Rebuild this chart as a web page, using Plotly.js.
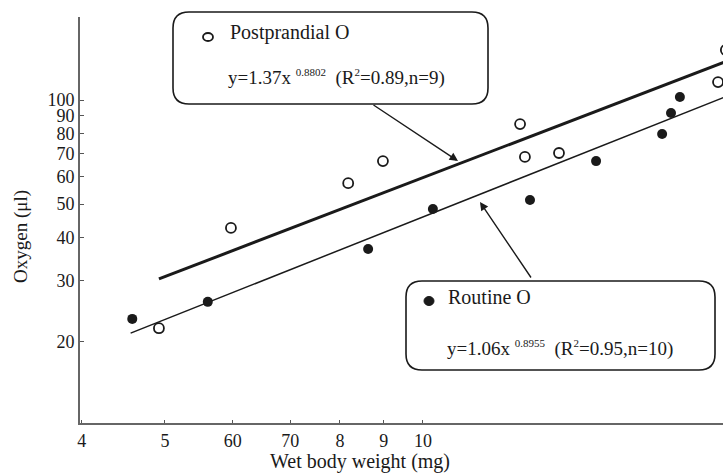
<!DOCTYPE html>
<html>
<head>
<meta charset="utf-8">
<script src="https://cdn.plot.ly/plotly-3.0.1.min.js"></script>
<style>html,body{margin:0;padding:0;background:#fff;}#chart{width:723px;height:476px;}</style>
</head>
<body>
<div id="chart"></div>
<script>
// ---- Data ----
const routineX = [45.8, 56.1, 86.3, 102.7, 133.3, 159.2, 190.1, 194.7, 199.4];
const routineY = [23.3, 26.1, 37.1, 48.4, 51.4, 66.6, 79.8, 91.7, 102];
const postX = [49.2, 59.7, 81.8, 89.8, 129.8, 131.5, 144.1, 220.9, 225.6];
const postY = [21.9, 42.7, 57.5, 66.6, 85.2, 68.5, 70.3, 112.7, 139.5];
const postFitX = [49.2, 226];
const postFitY = [30.4, 129.5];
const routineFitX = [45.6, 226];
const routineFitY = [21.2, 102.5];
const xTickVals = [40, 50, 60, 70, 80, 90, 100];
const xTickText = ["4", "5", "60", "70", "8", "9", "10"];
const yTickVals = [20, 30, 40, 50, 60, 70, 80, 90, 100];
const yTickText = ["20", "30", "40", "50", "60", "70", "80", "90", "100"];

// ---- Layout helpers (pixel -> paper) ----
const W = 723, H = 476, ML = 80, MR = 0, MT = 17, MB = 53;
const PW = W - ML - MR, PH = H - MT - MB;
const px = x => (x - ML) / PW;
const py = y => (H - MB - y) / PH;
function roundRect(x0, y0, x1, y1, r) {
  const p = (x, y) => px(x).toFixed(5) + ',' + py(y).toFixed(5);
  return 'M' + p(x0 + r, y0) + ' L' + p(x1 - r, y0) + ' Q' + p(x1, y0) + ' ' + p(x1, y0 + r) +
    ' L' + p(x1, y1 - r) + ' Q' + p(x1, y1) + ' ' + p(x1 - r, y1) +
    ' L' + p(x0 + r, y1) + ' Q' + p(x0, y1) + ' ' + p(x0, y1 - r) +
    ' L' + p(x0, y0 + r) + ' Q' + p(x0, y0) + ' ' + p(x0 + r, y0) + ' Z';
}

const ink = '#1a1a1a';
const serif = 'Liberation Serif, Times New Roman, serif';
const sup = s => '<sup><span style="font-size:11px">' + s + '</span></sup>';

const traces = [
  {x: postFitX, y: postFitY, mode: 'lines', line: {color: ink, width: 3}, hoverinfo: 'skip'},
  {x: routineFitX, y: routineFitY, mode: 'lines', line: {color: ink, width: 1.5}, hoverinfo: 'skip'},
  {x: postX, y: postY, mode: 'markers', name: 'Postprandial O',
   marker: {symbol: 'circle-open', size: 10, color: ink, line: {width: 1.8, color: ink}}},
  {x: routineX, y: routineY, mode: 'markers', name: 'Routine O',
   marker: {symbol: 'circle', size: 10, color: ink}}
];

const layout = {
  width: W, height: H,
  margin: {l: ML, r: MR, t: MT, b: MB},
  paper_bgcolor: '#fff', plot_bgcolor: '#fff',
  showlegend: false,
  font: {family: serif, color: ink, size: 19},
  xaxis: {
    type: 'log', range: [Math.log10(39.8), 2.350],
    tickvals: xTickVals, ticktext: xTickText,
    ticks: 'inside', ticklen: 3, tickcolor: '#555',
    showgrid: false, zeroline: false,
    showline: true, linecolor: '#666', linewidth: 2,
    tickfont: {family: serif, size: 18, color: ink}
  },
  yaxis: {
    type: 'log', range: [1.0665, 2.240],
    tickvals: yTickVals, ticktext: yTickText,
    ticks: 'inside', ticklen: 4, tickcolor: '#555',
    showgrid: false, zeroline: false,
    showline: true, linecolor: '#666', linewidth: 2,
    tickfont: {family: serif, size: 18, color: ink}
  },
  shapes: [
    {type: 'path', xref: 'paper', yref: 'paper', path: roundRect(173, 12, 488, 104, 16),
     line: {color: ink, width: 1.6}, fillcolor: 'rgba(0,0,0,0)'},
    {type: 'path', xref: 'paper', yref: 'paper', path: roundRect(406, 281, 715, 370, 16),
     line: {color: ink, width: 1.6}, fillcolor: 'rgba(0,0,0,0)'},
    {type: 'circle', xref: 'paper', yref: 'paper', xsizemode: 'pixel', ysizemode: 'pixel',
     xanchor: px(208), yanchor: py(37), x0: -5, x1: 5, y0: -4, y1: 4,
     line: {color: ink, width: 1.8}},
    {type: 'circle', xref: 'paper', yref: 'paper', xsizemode: 'pixel', ysizemode: 'pixel',
     xanchor: px(429), yanchor: py(301), x0: -5, x1: 5, y0: -4.5, y1: 4.5,
     line: {color: ink, width: 1}, fillcolor: ink}
  ],
  annotations: [
    {xref: 'paper', yref: 'paper', x: px(360), y: py(461), xanchor: 'center', yanchor: 'middle',
     text: 'Wet body weight (mg)', showarrow: false, font: {family: serif, size: 20, color: ink}},
    {xref: 'paper', yref: 'paper', x: px(21), y: py(237), xanchor: 'center', yanchor: 'middle',
     textangle: -90, text: 'Oxygen (μl)', showarrow: false, font: {family: serif, size: 19, color: ink}},
    {xref: 'paper', yref: 'paper', x: px(228), y: py(33), xanchor: 'left', yanchor: 'middle',
     text: 'Postprandial O', showarrow: false, font: {family: serif, size: 20, color: ink}},
    {xref: 'paper', yref: 'paper', x: px(226), y: py(77), xanchor: 'left', yanchor: 'middle',
     text: 'y=1.37x ' + sup('0.8802') + '  (R' + sup('2') + '=0.89,n=9)', showarrow: false,
     font: {family: serif, size: 19, color: ink}},
    {xref: 'paper', yref: 'paper', x: px(446), y: py(297), xanchor: 'left', yanchor: 'middle',
     text: 'Routine O', showarrow: false, font: {family: serif, size: 20, color: ink}},
    {xref: 'paper', yref: 'paper', x: px(445), y: py(348), xanchor: 'left', yanchor: 'middle',
     text: 'y=1.06x ' + sup('0.8955') + '  (R' + sup('2') + '=0.95,n=10)', showarrow: false,
     font: {family: serif, size: 19, color: ink}},
    {xref: 'paper', yref: 'paper', x: px(458), y: py(161), text: '', showarrow: true,
     ax: -86, ay: -57, arrowhead: 2, arrowsize: 1.2, arrowwidth: 1.4, arrowcolor: ink},
    {xref: 'paper', yref: 'paper', x: px(480), y: py(202), text: '', showarrow: true,
     ax: 52, ay: 77, arrowhead: 2, arrowsize: 1.2, arrowwidth: 1.4, arrowcolor: ink}
  ]
};

Plotly.newPlot('chart', traces, layout, {displayModeBar: false, staticPlot: true});
</script>
</body>
</html>
